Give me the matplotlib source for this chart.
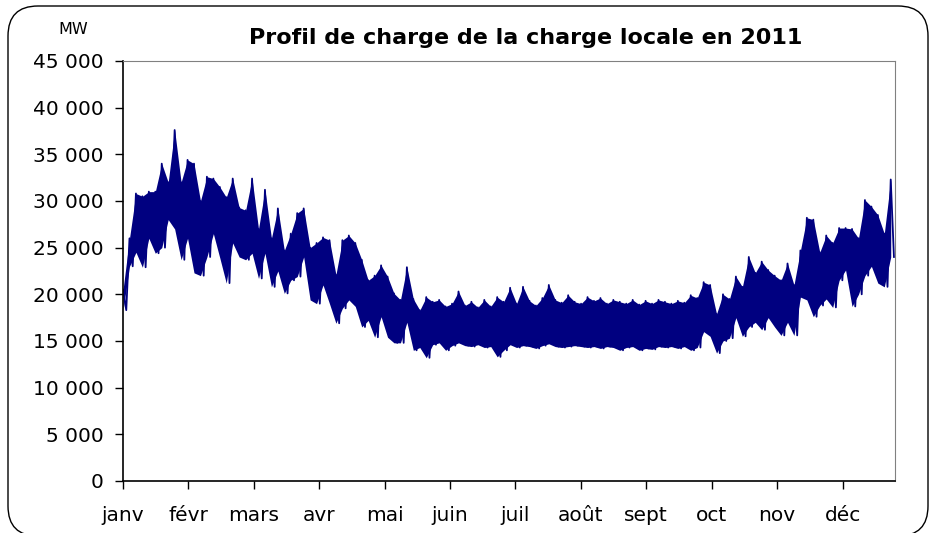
import numpy as np
import matplotlib
matplotlib.use("Agg")
import matplotlib.pyplot as plt
from matplotlib.patches import FancyBboxPatch
from matplotlib.transforms import IdentityTransform

plt.rcParams['font.family'] = ['DejaVu Sans']

# pointes et creux relevés tous les 3 jours (MW)
pics = [20500, 26000, 30800, 30500, 31000, 31000, 34000, 32000, 37600, 32000,
        34400, 34000, 30000, 32600, 32400, 31500, 30400, 32400, 29300, 29000,
        32400, 27000, 31200, 26000, 29200, 24700, 26500, 28700, 29200, 25000,
        25500, 26100, 25800, 22100, 25800, 26300, 25500, 23700, 21500, 22000,
        23100, 21900, 20100, 19400, 22900, 19500, 18300, 19700, 19200, 19400,
        18700, 19000, 20300, 18800, 19200, 18600, 19400, 18700, 19700, 19200,
        20700, 19000, 20800, 19300, 18800, 19600, 21000, 19400, 19100, 19900,
        19200, 19000, 19700, 19300, 19600, 19000, 19400, 19200, 19000, 19400,
        18900, 19300, 19000, 19400, 19200, 19000, 19300, 19100, 19900, 19600,
        21300, 21000, 17900, 20000, 19500, 21900, 20800, 24000, 22300, 23500,
        22600, 22000, 21500, 23300, 21000, 24700, 28200, 28000, 24500, 26300,
        25500, 27100, 27100, 27000, 26000, 30100, 29400, 28500, 26500, 32300]
creux = [18300, 23000, 24500, 22900, 26000, 24400, 25000, 28000, 27000, 23700,
         26000, 22300, 22000, 24000, 26500, 23900, 21200, 25500, 24000, 23700,
         24400, 21700, 24400, 20800, 22500, 20100, 21500, 21900, 24000, 19400,
         19000, 21000, 19000, 16900, 18500, 19400, 18700, 16500, 17200, 15400,
         17600, 15400, 14800, 14800, 17000, 14000, 14300, 13200, 14600, 14800,
         14000, 14500, 14800, 14500, 14400, 14600, 14300, 14400, 13300, 14000,
         14600, 14300, 14500, 14400, 14200, 14500, 14700, 14400, 14300, 14400,
         14500, 14400, 14300, 14400, 14200, 14400, 14300, 14000, 14300, 14400,
         14000, 14200, 14100, 14400, 14300, 14400, 14200, 14400, 14000, 14300,
         16000, 15500, 13700, 15000, 15300, 17500, 15500, 16500, 17000, 16200,
         17500, 16500, 15600, 17000, 15600, 19700, 19400, 17600, 18800, 19500,
         18600, 21500, 22600, 18700, 20000, 22000, 23000, 21200, 20800, 24000]
pas_jours = 3
mois = ['janv', 'févr', 'mars', 'avr', 'mai', 'juin', 'juil', 'août', 'sept',
        'oct', 'nov', 'déc']

jours = np.arange(len(pics)) * pas_jours
x = np.empty(2 * len(pics))
y = np.empty(2 * len(pics))
x[0::2] = jours
x[1::2] = jours + pas_jours / 2
y[0::2] = pics
y[1::2] = creux

fig = plt.figure(figsize=(9.3, 5.33), dpi=100)
ax = fig.add_axes([0.1323, 0.0976, 0.8301, 0.788])

# bande journalière (creux -> pointe) puis le tracé en dents de scie
ax.fill_between(jours, creux, pics, color='#000080', lw=0)
ax.plot(x, y, color='#000080', lw=1.3)

ax.set_xlim(0, 359)
ax.set_ylim(0, 45000)
ax.set_yticks(np.arange(0, 45001, 5000))
ax.set_yticklabels([f"{v:,}".replace(",", " ") for v in range(0, 45001, 5000)])
ax.set_xticks(np.arange(12) * 365 / 12)
ax.set_xticklabels(mois)
ax.tick_params(axis='y', direction='out', length=6, width=1, pad=8, labelsize=14.5)
ax.tick_params(axis='x', direction='out', length=6, width=1, pad=12, labelsize=14.5)

for s in ['top', 'right']:
    ax.spines[s].set_color('#808080')
for s in ['left', 'bottom']:
    ax.spines[s].set_color('black')
    ax.spines[s].set_linewidth(1.2)

fig.text(0.565, 0.928, 'Profil de charge de la charge locale en 2011',
         ha='center', va='center', fontsize=16, fontweight='bold')
fig.text(0.079, 0.945, 'MW', ha='center', va='center', fontsize=11.5)

cadre = FancyBboxPatch((8, -3), 920, 530, boxstyle="round,pad=0,rounding_size=30",
                       transform=IdentityTransform(), fill=False,
                       edgecolor='black', lw=1)
fig.add_artist(cadre)

fig.savefig('out.png', dpi=100)
